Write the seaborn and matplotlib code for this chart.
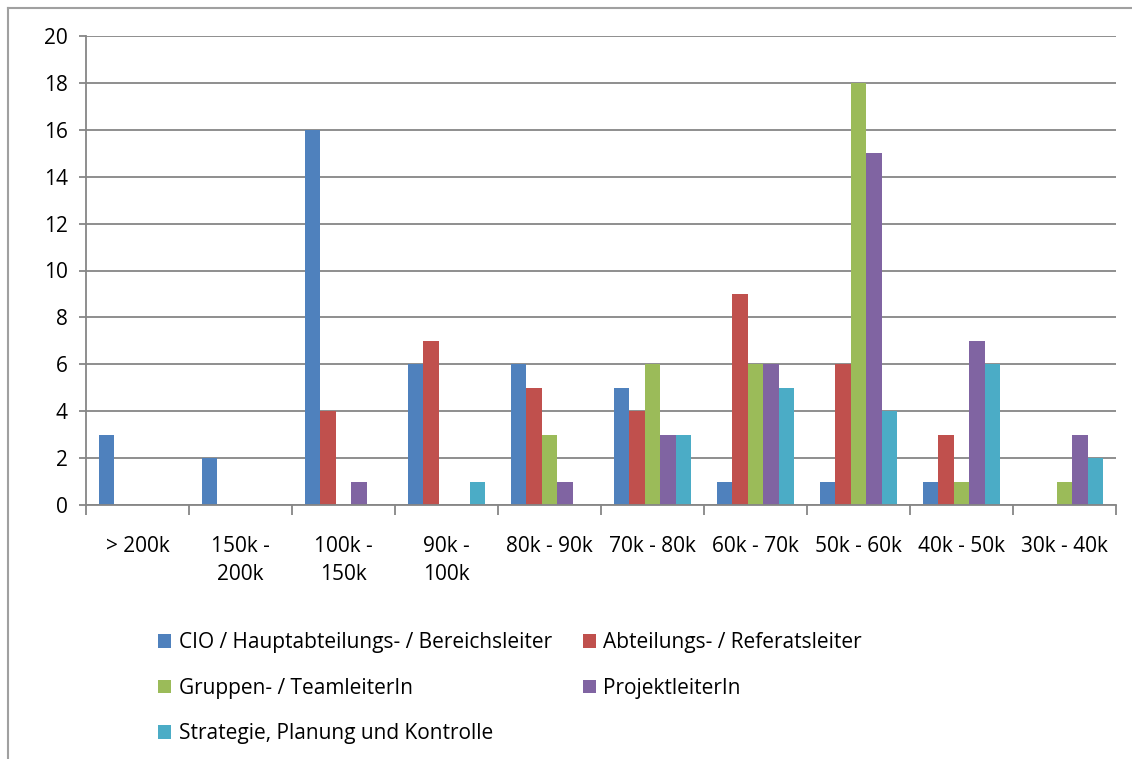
import pandas as pd
import seaborn as sns
import matplotlib.pyplot as plt
from matplotlib.lines import Line2D
from matplotlib.patches import Patch

# 数据
categories = ['> 200k', '150k - 200k', '100k - 150k', '90k - 100k', '80k - 90k',
              '70k - 80k', '60k - 70k', '50k - 60k', '40k - 50k', '30k - 40k']
tick_labels = ['> 200k', '150k -\n200k', '100k -\n150k', '90k -\n100k', '80k - 90k',
               '70k - 80k', '60k - 70k', '50k - 60k', '40k - 50k', '30k - 40k']
series = ['CIO / Hauptabteilungs- / Bereichsleiter', 'Abteilungs- / Referatsleiter',
          'Gruppen- / TeamleiterIn', 'ProjektleiterIn', 'Strategie, Planung und Kontrolle']
cio = [3, 2, 16, 6, 6, 5, 1, 1, 1, 0]
abteilung = [0, 0, 4, 7, 5, 4, 9, 6, 3, 0]
gruppen = [0, 0, 0, 0, 3, 6, 6, 18, 1, 1]
projekt = [0, 0, 1, 0, 1, 3, 6, 15, 7, 3]
strategie = [0, 0, 0, 1, 0, 3, 5, 4, 6, 2]
colors = ['#4f81bd', '#c0504d', '#9bbb59', '#8064a2', '#4bacc6']

df = pd.DataFrame({'Gehalt': categories, series[0]: cio, series[1]: abteilung,
                   series[2]: gruppen, series[3]: projekt, series[4]: strategie})
plot_data = pd.melt(df, id_vars='Gehalt', var_name='Rolle', value_name='Anzahl')

plt.rcParams['font.family'] = ['Open Sans', 'DejaVu Sans']
fs = 15

fig = plt.figure(figsize=(11.32, 7.59), dpi=100)
ax = fig.add_axes([86 / 1132, 1 - 505 / 759, (1116 - 86) / 1132, (505 - 36) / 759])

sns.barplot(data=plot_data, x='Gehalt', y='Anzahl', hue='Rolle', order=categories,
            hue_order=series, palette=colors, width=0.75, gap=0, ax=ax,
            legend=False, saturation=1, edgecolor='none')

grid_c = '#868686'
ax.set_ylim(0, 20)
ax.set_yticks(range(0, 21, 2))
ax.set_xlim(-0.5, len(categories) - 0.5)
ax.yaxis.grid(True, color=grid_c, linewidth=1.3)
ax.set_axisbelow(True)
for s in ['top', 'right']:
    ax.spines[s].set_visible(False)
for s in ['left', 'bottom']:
    ax.spines[s].set_color(grid_c)
    ax.spines[s].set_linewidth(1.3)
ax.set_xlabel('')
ax.set_ylabel('')
ax.tick_params(axis='y', length=5, color=grid_c, width=1.3, labelsize=fs, pad=8)

# x-Ticks zwischen den Gruppen, Beschriftung in der Mitte
ax.set_xticks([i - 0.5 for i in range(len(categories) + 1)])
ax.set_xticklabels([''] * (len(categories) + 1))
ax.set_xticks(range(len(categories)), minor=True)
ax.set_xticklabels(tick_labels, minor=True, fontsize=fs, linespacing=1.45, va='top')
ax.tick_params(axis='x', which='major', length=7, color=grid_c, width=1.3)
ax.tick_params(axis='x', which='minor', length=0, pad=22)

# Legende (zeilenweise Reihenfolge)
handles = [Patch(facecolor=c, edgecolor='none') for c in colors]
order = [0, 2, 4, 1, 3]
fig.legend([handles[i] for i in order], [series[i] for i in order], loc='upper left',
           bbox_to_anchor=(150 / 1132, 1 - 624 / 759), ncol=2, frameon=False,
           fontsize=fs, handlelength=0.62, handleheight=0.62, handletextpad=0.35,
           columnspacing=1.5, labelspacing=1.18, borderaxespad=0)

# äußerer Rahmen
fig.add_artist(Line2D([8 / 1132, 8 / 1132], [0, 1 - 8 / 759], color='#a0a0a0', lw=1.5))
fig.add_artist(Line2D([8 / 1132, 1], [1 - 8 / 759, 1 - 8 / 759], color='#a0a0a0', lw=1.5))

fig.savefig('out.png', dpi=100)
